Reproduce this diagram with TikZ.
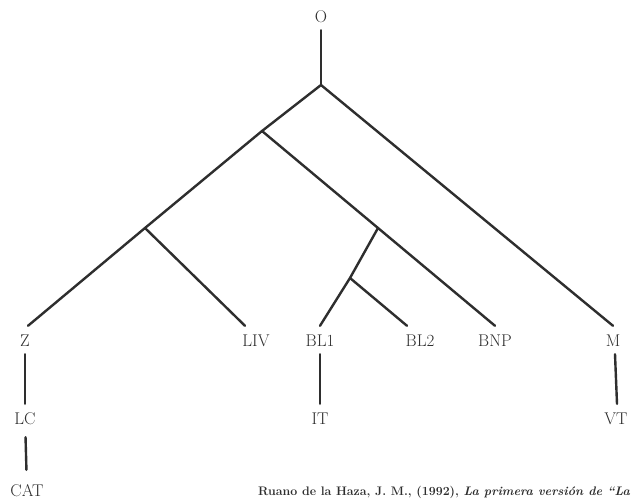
\documentclass[tikz,border=0pt]{standalone}
\usepackage{graphicx}
\usetikzlibrary{calc}
\definecolor{ink}{HTML}{2E2E2E}
\tikzset{
  lab/.style={inner xsep=0pt, inner ysep=8pt, text height=12pt, text depth=0pt, text=ink,
    font=\fontsize{17}{20}\selectfont},
  edge/.style={draw=ink, line width=2.4pt, line cap=round}
}
\begin{document}
\begin{tikzpicture}[x=1pt,y=-1pt]
\path[use as bounding box, clip] (0,0) rectangle (634,501);
\fill[white] (0,0) rectangle (634,501);
% labels
\node[lab] (O) at (321,16) {O};
\node[lab] (Z) at (25,340) {Z};
\node[lab] (LIV) at (256,340) {LIV};
\node[lab] (BL1) at (320,340) {BL1};
\node[lab] (BL2) at (420,340) {BL2};
\node[lab] (BNP) at (495,340) {BNP};
\node[lab] (M) at (613,340) {M};
\node[lab] (LC) at (25,418) {LC};
\node[lab] (IT) at (320,418) {IT};
\node[lab] (VT) at (616,418) {VT};
\node[lab] (CAT) at (27,490) {CAT};
% junctions
\coordinate (r) at (321,85);
\coordinate (a) at (262,131);
\coordinate (b) at (145,228);
\coordinate (c) at (378,228);
\coordinate (d) at (350,278);
% edges
\draw[edge] (O) -- (r);
\draw[edge] (r) -- (a);
\draw[edge] (r) -- (M.north);
\draw[edge] (a) -- (b) -- ([xshift=3pt]Z.north);
\draw[edge] (b) -- ([xshift=-11pt]LIV.north);
\draw[edge] (a) -- (c) -- (BNP.north);
\draw[edge] (c) -- (d) -- (BL1.north);
\draw[edge] (d) -- ([xshift=-13pt]BL2.north);
\draw[edge] (Z) -- (LC);
\draw[edge, shorten >=6pt, shorten <=5pt] (LC) -- (CAT);
\draw[edge] (BL1) -- (IT);
\draw[edge] ([xshift=2pt]M.south) -- ([xshift=1pt]VT.north);
% reference
\node[anchor=base west, inner sep=0pt, text=ink] (ref) at (258,495)
  {\resizebox{372pt}{!}{\fontsize{13}{15}\selectfont\bfseries Ruano de la Haza, J. M., (1992), \textit{La primera versión de ``La}}};
\end{tikzpicture}
\end{document}
